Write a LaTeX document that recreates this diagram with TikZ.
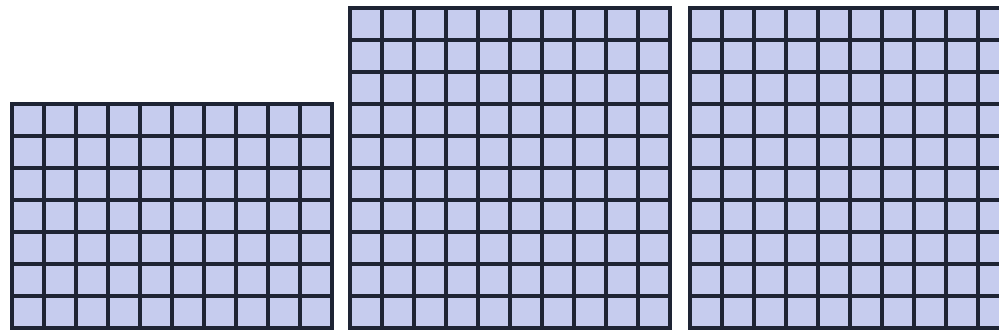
\documentclass[tikz,border=0pt]{standalone}
\usepackage{tikz}
\definecolor{cellfill}{RGB}{198,204,238}
\definecolor{gridline}{RGB}{30,36,52}

\begin{document}
\begin{tikzpicture}[x=0.025cm,y=0.025cm,cell/.style={fill=cellfill,draw=gridline,line width=2.2pt}]
    \useasboundingbox (0,0) rectangle (999,334);
    \clip (0,0) rectangle (999,334);
    \fill[white] (0,0) rectangle (999,334);
    \foreach \c in {0,...,9}
        \foreach \r in {0,...,6}
            \draw[cell] ({12+32*\c},{6+32*\r}) rectangle +(32,32);
    \foreach \c in {0,...,9}
        \foreach \r in {0,...,9}
            \draw[cell] ({350+32*\c},{6+32*\r}) rectangle +(32,32);
    \foreach \c in {0,...,9}
        \foreach \r in {0,...,9}
            \draw[cell] ({690+32*\c},{6+32*\r}) rectangle +(32,32);
\end{tikzpicture}
\end{document}
